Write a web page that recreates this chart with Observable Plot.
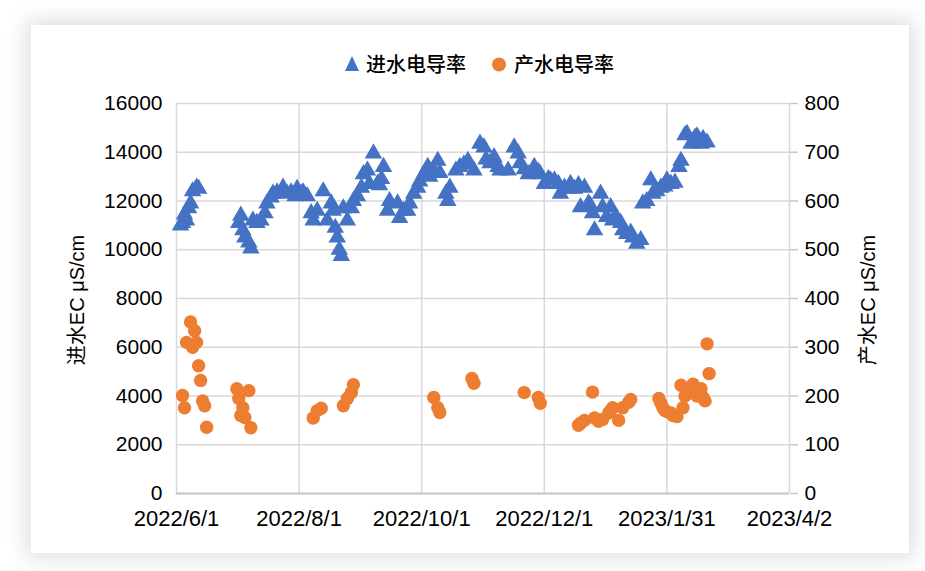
<!DOCTYPE html>
<html>
<head>
<meta charset="utf-8">
<script src="https://cdn.jsdelivr.net/npm/d3@7"></script>
<script src="https://cdn.jsdelivr.net/npm/@observablehq/plot@0.6"></script>
<style>
  html, body { margin: 0; padding: 0; background: #ffffff; width: 925px; height: 571px; overflow: hidden; }
  #card { position: absolute; left: 31px; top: 25px; width: 878px; height: 528px; background: #fff;
          box-shadow: 0 0 20px 5px rgba(0,0,0,0.13); }
  #chart { position: absolute; left: 0; top: 0; }
  .lbl { position: absolute; font-family: "Liberation Sans", Arial, "Noto Sans CJK SC", sans-serif; color: #000; font-size: 20px; white-space: nowrap; }
  .ytitle { transform-origin: center center; transform: translate(-50%, -50%) rotate(-90deg); }
  .leg { position: absolute; top: 52px; font-family: "Noto Sans CJK SC", sans-serif; font-size: 20px; font-weight: 500; color: #000; line-height: 24px; white-space: nowrap; }
</style>
</head>
<body>
<div id="card"></div>
<div id="chart"></div>
<div class="leg" style="left:343px;"><svg width="18" height="24" style="vertical-align:top"><path d="M9,4 L16,19 L2,19 Z" fill="#4472C4"/></svg><span style="margin-left:5px">进水电导率</span></div>
<div class="leg" style="left:491px;"><svg width="18" height="24" style="vertical-align:top"><circle cx="8" cy="12.5" r="7" fill="#ED7D31"/></svg><span style="margin-left:5px">产水电导率</span></div>
<div class="lbl ytitle" style="left:75px; top:300px;">进水EC μS/cm</div>
<div class="lbl ytitle" style="left:866px; top:300px;">产水EC μS/cm</div>
<script>
// ---- data ----
const inletDates = [
  "2022-06-03","2022-06-04","2022-06-05","2022-06-06","2022-06-07","2022-06-08","2022-06-09","2022-06-11","2022-06-12",
  "2022-07-02","2022-07-03","2022-07-04","2022-07-05","2022-07-07","2022-07-08","2022-07-09","2022-07-11","2022-07-13",
  "2022-07-15","2022-07-16","2022-07-18","2022-07-19","2022-07-21","2022-07-24","2022-07-26","2022-07-28","2022-07-30",
  "2022-07-31","2022-08-02","2022-08-03","2022-08-05",
  "2022-08-07","2022-08-08","2022-08-10","2022-08-13","2022-08-15","2022-08-17","2022-08-18","2022-08-19","2022-08-20",
  "2022-08-21","2022-08-22","2022-08-23","2022-08-25","2022-08-27","2022-08-28","2022-08-30","2022-09-01","2022-09-02",
  "2022-09-04","2022-09-05","2022-09-07","2022-09-09","2022-09-10","2022-09-11","2022-09-12","2022-09-14","2022-09-15",
  "2022-09-19","2022-09-20","2022-09-22","2022-09-24","2022-09-25","2022-09-27","2022-09-29","2022-09-30","2022-10-02",
  "2022-10-04","2022-10-05","2022-10-07","2022-10-09","2022-10-10","2022-10-13","2022-10-14","2022-10-15","2022-10-18",
  "2022-10-20","2022-10-22","2022-10-24","2022-10-27","2022-10-30","2022-11-01","2022-11-02","2022-11-04","2022-11-06",
  "2022-11-08","2022-11-09","2022-11-13","2022-11-16","2022-11-18","2022-11-19","2022-11-21","2022-11-23","2022-11-26",
  "2022-11-28","2022-11-29","2022-12-01","2022-12-03","2022-12-04","2022-12-06","2022-12-08","2022-12-09","2022-12-11",
  "2022-12-13","2022-12-14","2022-12-16","2022-12-18","2022-12-19","2022-12-21","2022-12-23","2022-12-24","2022-12-25",
  "2022-12-26","2022-12-29","2022-12-30","2023-01-01","2023-01-03","2023-01-04","2023-01-06","2023-01-08","2023-01-09",
  "2023-01-11","2023-01-13","2023-01-14","2023-01-16","2023-01-18","2023-01-19","2023-01-21","2023-01-23","2023-01-24",
  "2023-01-26","2023-01-28","2023-01-30","2023-01-31","2023-02-02","2023-02-04","2023-02-06","2023-02-07","2023-02-09",
  "2023-02-10","2023-02-12","2023-02-14","2023-02-15","2023-02-17","2023-02-18","2023-02-20"
];
const inletEC = [
  11000,11100,11450,11200,11700,11900,12400,12550,12500,
  11100,11400,10800,10500,10300,10050,11200,11100,11200,
  11500,11900,12150,12300,12350,12550,12300,12350,12200,
  12500,12300,12350,12200,
  11500,11200,11600,12400,11200,11900,11600,10900,10500,
  10000,9750,11700,11200,11700,12000,12200,12550,13100,
  13250,12700,13950,12700,12650,12900,13400,11600,12000,
  11900,11300,11600,11600,11900,12300,12550,12800,13100,
  13400,13000,13250,13650,13150,12300,12000,12550,13250,
  13400,13500,13650,13250,14350,14200,13700,13550,13800,
  13400,13250,13250,14200,13950,13550,13300,13100,13400,
  13200,13100,12700,12900,12850,12850,12700,12300,12550,
  12500,12700,12500,12650,11750,12550,11900,11800,11500,
  10800,12300,11750,11350,11750,11200,11300,11100,10800,
  10650,10700,10500,10250,10400,11900,12000,12850,12300,
  12400,12550,12600,12850,12700,12750,13400,13650,14700,
  14750,14350,14600,14650,14350,14550,14400
];
const productDates = [
  "2022-06-04","2022-06-05","2022-06-06","2022-06-08","2022-06-09","2022-06-10","2022-06-11","2022-06-12","2022-06-13",
  "2022-06-14","2022-06-15","2022-06-16",
  "2022-07-01","2022-07-02","2022-07-03","2022-07-04","2022-07-05","2022-07-07","2022-07-08",
  "2022-08-08","2022-08-10","2022-08-12","2022-08-23","2022-08-25","2022-08-27","2022-08-28",
  "2022-10-07","2022-10-09","2022-10-10","2022-10-26","2022-10-27","2022-11-21","2022-11-28","2022-11-29",
  "2022-12-18","2022-12-19","2022-12-21","2022-12-25","2022-12-26","2022-12-28","2022-12-30","2023-01-02","2023-01-03",
  "2023-01-04","2023-01-07","2023-01-09","2023-01-12","2023-01-13",
  "2023-01-27","2023-01-28","2023-01-29","2023-01-30","2023-01-31","2023-02-02","2023-02-03","2023-02-05","2023-02-07",
  "2023-02-08","2023-02-09","2023-02-10","2023-02-12","2023-02-13","2023-02-14","2023-02-15","2023-02-17","2023-02-18",
  "2023-02-19","2023-02-20","2023-02-21"
];
const productEC = [
  201,176,310,352,300,334,310,262,232,
  190,180,136,
  215,195,160,176,156,211,135,
  155,170,175,180,195,207,223,
  197,176,166,236,226,207,197,185,
  140,144,150,208,155,148,152,165,170,
  176,150,176,187,193,
  195,185,176,170,168,165,160,158,222,
  176,200,210,214,224,207,200,215,197,
  190,307,246
];
const xTickLabels = ["2022/6/1","2022/8/1","2022/10/1","2022/12/1","2023/1/31","2023/4/2"];
const xTickDates  = ["2022-06-01","2022-08-01","2022-10-01","2022-12-01","2023-01-31","2023-04-02"];
const leftTicks   = [0,2000,4000,6000,8000,10000,12000,14000,16000];
const rightTicks  = [0,100,200,300,400,500,600,700,800];

// ---- build tables ----
const ratio = leftTicks[leftTicks.length-1] / rightTicks[rightTicks.length-1];
const inlet = inletDates.map((d,i) => ({date: new Date(d + "T00:00:00Z"), v: inletEC[i]}));
const product = productDates.map((d,i) => ({date: new Date(d + "T00:00:00Z"), v: productEC[i]}));
const xt = xTickDates.map(d => new Date(d + "T00:00:00Z"));
const fmtX = d => xTickLabels[xt.findIndex(t => +t === +d)];

const chart = Plot.plot({
  width: 925, height: 571,
  marginLeft: 176, marginRight: 136, marginTop: 103, marginBottom: 78,
  style: {fontFamily: "'Liberation Sans', Arial, sans-serif", fontSize: "20px", color: "#000", background: "transparent", overflow: "visible"},
  x: {type: "utc", domain: [xt[0], xt[xt.length-1]]},
  y: {domain: [0, leftTicks[leftTicks.length-1]]},
  marks: [
    Plot.gridY(leftTicks, {stroke: "#d9d9d9", strokeOpacity: 1, strokeWidth: 1.5}),
    Plot.gridX(xt, {stroke: "#d9d9d9", strokeOpacity: 1, strokeWidth: 1.5}),
    Plot.ruleY([0], {stroke: "#c8c8c8", strokeWidth: 2}),
    Plot.axisY(leftTicks, {anchor: "left", tickSize: 0, tickPadding: 14, tickFormat: d => String(d), label: null, fontSize: 21}),
    Plot.axisY(rightTicks.map(v => v * ratio), {anchor: "right", tickSize: 8, tickPadding: 7, stroke: "#c8c8c8", strokeWidth: 1.5, tickFormat: d => String(d / ratio), label: null, fontSize: 21}),
    Plot.axisX(xt, {anchor: "bottom", tickSize: 0, tickPadding: 17, tickFormat: fmtX, label: null, fontSize: 22}),
    Plot.dot(inlet, {x: "date", y: "v", symbol: "triangle", r: 6.5, fill: "#4472C4", stroke: "none"}),
    Plot.dot(product, {x: "date", y: d => d.v * ratio, symbol: "circle", r: 6.7, fill: "#ED7D31", stroke: "none"})
  ]
});
document.getElementById("chart").appendChild(chart);
</script>
</body>
</html>
